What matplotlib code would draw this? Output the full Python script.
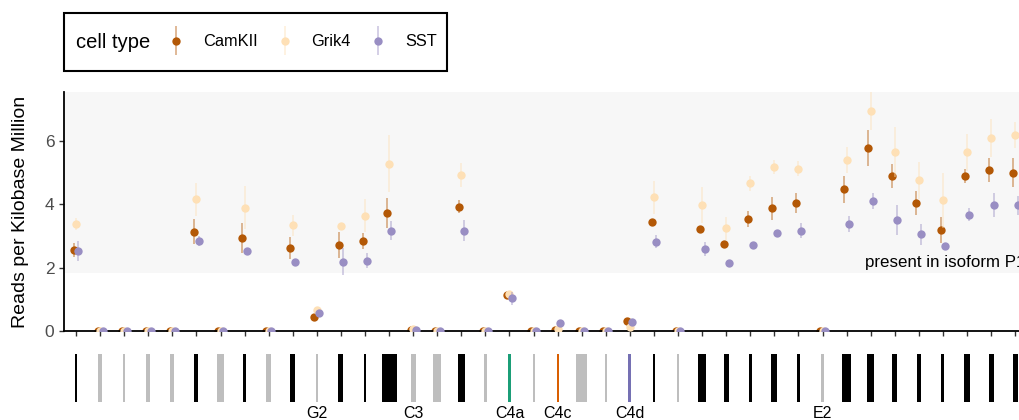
import matplotlib
matplotlib.use("Agg")
import matplotlib.pyplot as plt
from matplotlib.colors import to_rgba
from matplotlib.patches import Rectangle
from matplotlib.container import ErrorbarContainer
from matplotlib.legend_handler import HandlerErrorbar

plt.rcParams['font.family'] = ['Liberation Sans', 'DejaVu Sans']

# exon index along the gene
exon = list(range(1, 41))

camk_mean = [2.56, 0, 0, 0, 0, 3.14, 0, 2.93, 0, 2.63,
             0.45, 2.72, 2.84, 3.72, 0.02, 0, 3.93, 0, 1.14, 0,
             0.02, 0, 0, 0.33, 3.44, 0, 3.22, 2.74, 3.53, 3.87,
             4.04, 0, 4.47, 5.78, 4.90, 4.05, 3.19, 4.90, 5.08, 5.00]
camk_err = [0.21, 0.02, 0.02, 0.02, 0.02, 0.40, 0.02, 0.47, 0.02, 0.34,
            0.05, 0.42, 0.26, 0.48, 0.02, 0.02, 0.21, 0.02, 0.05, 0.02,
            0.02, 0.02, 0.02, 0.03, 0.10, 0.02, 0.10, 0.10, 0.26, 0.37,
            0.32, 0.02, 0.42, 0.57, 0.37, 0.37, 0.40, 0.21, 0.37, 0.45]

grik_mean = [3.37, 0, 0, 0, 0, 4.16, 0, 3.89, 0, 3.34,
             0.66, 3.32, 3.64, 5.29, 0.05, 0, 4.93, 0, 1.17, 0,
             0.06, 0, 0, 0.12, 4.22, 0, 3.98, 3.24, 4.67, 5.18,
             5.13, 0, 5.40, 6.95, 5.66, 4.76, 4.13, 5.65, 6.10, 6.19]
grik_err = [0.19, 0.02, 0.02, 0.02, 0.02, 0.52, 0.02, 0.68, 0.02, 0.34,
            0.08, 0.10, 0.52, 0.90, 0.03, 0.02, 0.37, 0.02, 0.05, 0.02,
            0.03, 0.02, 0.02, 0.05, 0.52, 0.02, 0.58, 0.37, 0.24, 0.21,
            0.24, 0.02, 0.42, 0.60, 0.79, 0.58, 0.87, 0.58, 0.61, 0.40]

sst_mean = [2.52, 0, 0, 0, 0, 2.84, 0, 2.52, 0, 2.19,
            0.58, 2.19, 2.22, 3.17, 0.03, 0, 3.17, 0, 1.03, 0,
            0.26, 0, 0, 0.27, 2.82, 0, 2.59, 2.16, 2.72, 3.10,
            3.17, 0, 3.38, 4.10, 3.50, 3.05, 2.69, 3.67, 3.98, 3.97]
sst_err = [0.31, 0.02, 0.02, 0.02, 0.02, 0.16, 0.02, 0.08, 0.02, 0.08,
           0.08, 0.42, 0.24, 0.29, 0.02, 0.02, 0.34, 0.02, 0.21, 0.02,
           0.03, 0.02, 0.02, 0.05, 0.21, 0.02, 0.21, 0.05, 0.05, 0.05,
           0.24, 0.02, 0.24, 0.26, 0.47, 0.33, 0.10, 0.21, 0.37, 0.30]

cell_types = ["CamKII", "Grik4", "SST"]

# exon structure strip
exon_width = [0.11, 0.17, 0.08, 0.17, 0.17, 0.17, 0.29, 0.12, 0.21, 0.21,
              0.06, 0.21, 0.12, 0.62, 0.21, 0.33, 0.29, 0.12, 0.12, 0.08,
              0.08, 0.46, 0.06, 0.12, 0.08, 0.08, 0.33, 0.21, 0.12, 0.25,
              0.12, 0.12, 0.37, 0.29, 0.21, 0.17, 0.12, 0.25, 0.21, 0.21]
exon_type = ["P1", "no", "no", "no", "no", "P1", "no", "P1", "no", "P1",
             "no", "P1", "P1", "P1", "no", "no", "P1", "no", "C4a", "no",
             "C4c", "no", "no", "C4d", "P1", "no", "P1", "P1", "P1", "P1",
             "P1", "no", "P1", "P1", "P1", "P1", "P1", "P1", "P1", "P1"]
exon_names = {11: "G2", 15: "C3", 19: "C4a", 21: "C4c", 24: "C4d", 32: "E2"}

series_colors = ["#b35806", "#fee0b6", "#998ec3"]
exon_colors = {"P1": "black", "no": "#bebebe", "C4a": "#1b9e77",
               "C4c": "#d95f02", "C4d": "#7570b3"}

W, H = 1020, 420
fig = plt.figure(figsize=(W / 100, H / 100), dpi=100)
ax = fig.add_axes([64 / W, 89 / H, (W - 64) / W, 239 / H])
ax2 = fig.add_axes([64 / W, 18 / H, (W - 64) / W, 48 / H])

ax.axhspan(1.84, 7.55, color="#f7f7f7", zorder=0, lw=0)

handles = []
offsets = [-0.1, 0.0, 0.1]
for i, (m, e) in enumerate([(camk_mean, camk_err), (grik_mean, grik_err), (sst_mean, sst_err)]):
    xs = [x + offsets[i] for x in exon]
    c = series_colors[i]
    h = ax.errorbar(xs, m, yerr=e, fmt="o", color=c, ecolor=to_rgba(c, 0.45),
                    elinewidth=1.3, capsize=0, markersize=6, markeredgewidth=0,
                    zorder=2 + i, label=cell_types[i])
    handles.append(h)

# label is cut by the right edge, as in the original figure
ax.text(33.76, 2.15, "present in isoform P1", fontsize=12.2, va="center", ha="left")

ax.set_xlim(0.5, 40.2)
ax.set_ylim(0, 7.55)
ax.set_xticks(exon)
ax.set_xticklabels([])
ax.set_yticks([0, 2, 4, 6])
ax.tick_params(axis="both", length=3.5, width=1, color="#333333",
               labelcolor="#4d4d4d", labelsize=12.5)
for s in ["top", "right"]:
    ax.spines[s].set_visible(False)
for s in ["left", "bottom"]:
    ax.spines[s].set_linewidth(1.3)
ax.set_ylabel("Reads per Kilobase Million", fontsize=14)
ax.yaxis.set_label_coords(-0.037, 0.5)

# exon strip
ax2.bar(exon, [1] * len(exon), width=exon_width, bottom=0,
        color=[exon_colors[t] for t in exon_type], lw=0)
for k, name in exon_names.items():
    ax2.text(k, -0.23, name, ha="center", va="center", fontsize=11.5)
ax2.set_xlim(0.5, 40.2)
ax2.set_ylim(0, 1)
ax2.axis("off")

# legend box
fig.patches.append(Rectangle((64 / W, (H - 71) / H), 383 / W, 58 / H,
                             transform=fig.transFigure, facecolor="white",
                             edgecolor="black", lw=1.5))
fig.text(76 / W, (H - 43) / H, "cell type", fontsize=14.5, va="center", ha="left")
fig.legend(handles, cell_types, ncol=3, frameon=False, loc="center left",
           bbox_to_anchor=(166 / W, (H - 42) / H), fontsize=11.8, borderpad=0,
           borderaxespad=0, handlelength=1.2, handletextpad=1.05,
           columnspacing=1.05,
           handler_map={ErrorbarContainer: HandlerErrorbar(xerr_size=0.88)})

fig.savefig("out.png", dpi=100)
